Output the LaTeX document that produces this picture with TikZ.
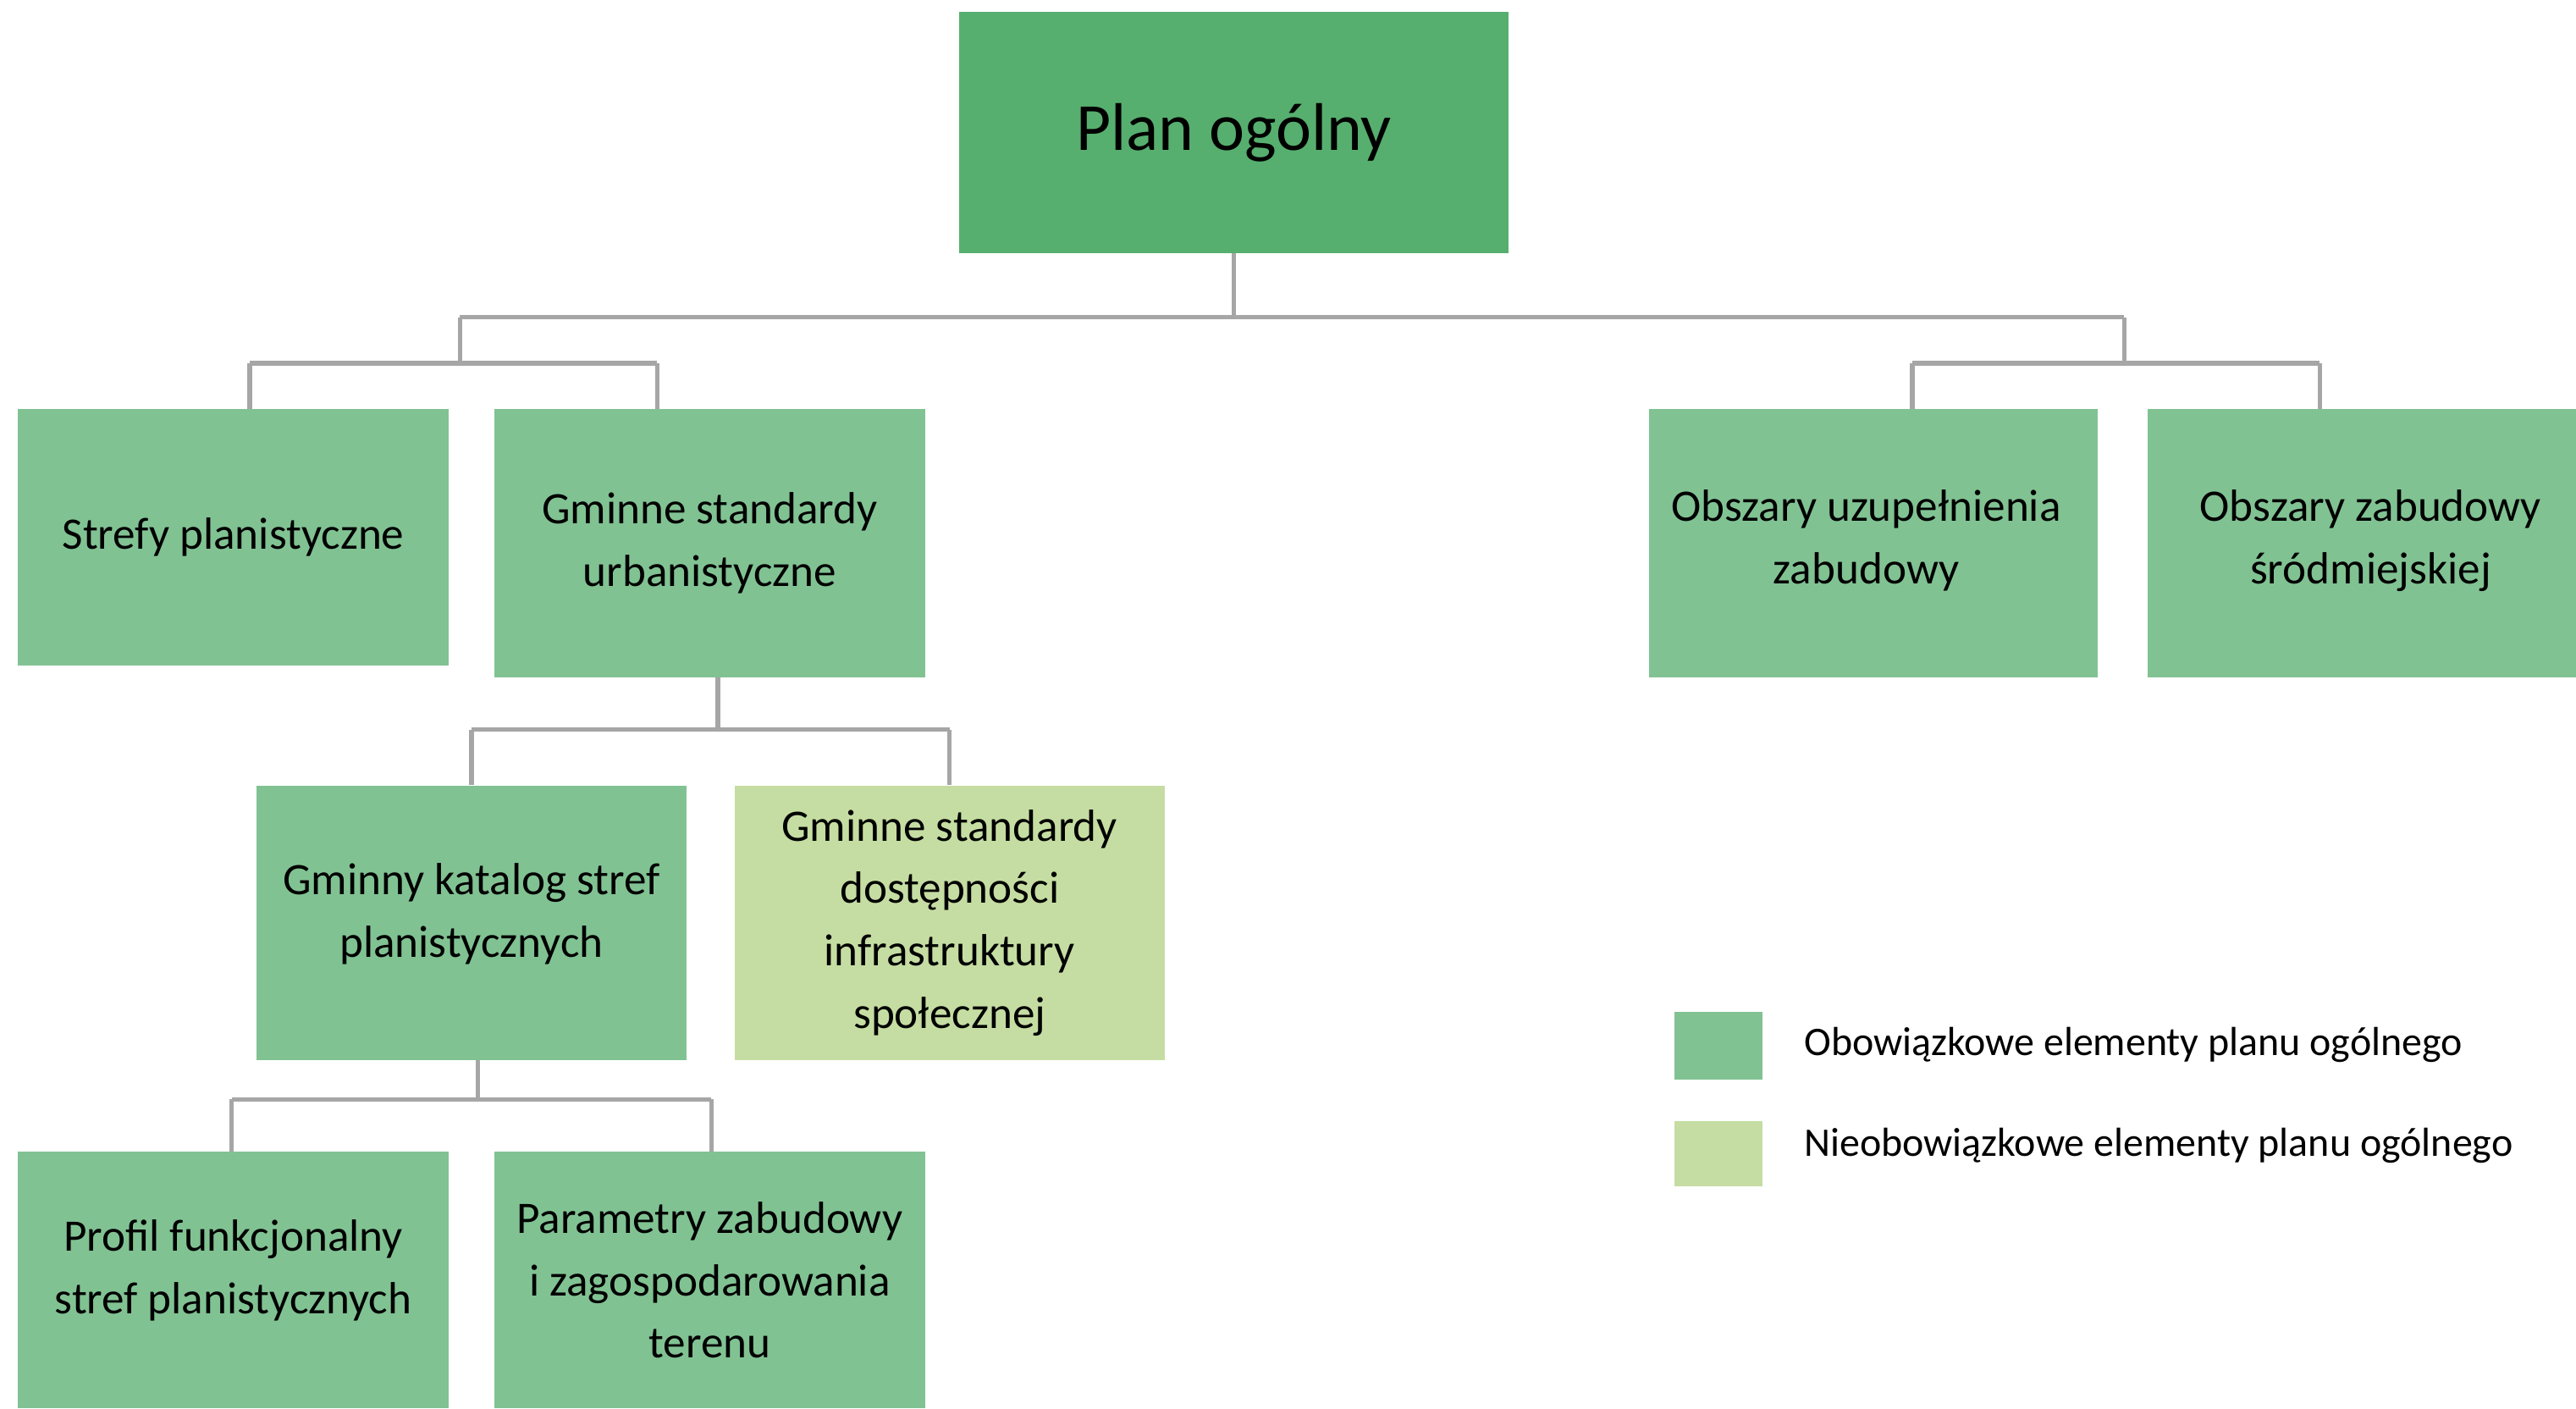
\documentclass[tikz,border=0pt]{standalone}
\usepackage{fontspec}
\setmainfont{Carlito}
\definecolor{gdark}{HTML}{56AF6E}
\definecolor{gmid}{HTML}{81C293}
\definecolor{glight}{HTML}{C5DDA2}
\definecolor{conn}{HTML}{A6A6A6}
\begin{document}
\begin{tikzpicture}[x=1pt,y=1pt,
  box/.style={rectangle,inner sep=0pt,align=center,font=\fontsize{27.4}{38}\selectfont},
  mid/.style={box,fill=gmid},
  light/.style={box,fill=glight},
  boxtext/.style={inner sep=0pt,align=center,font=\fontsize{27.4}{38}\selectfont},
  link/.style={draw=conn,line width=2.8pt},
  legtext/.style={anchor=west,inner sep=0pt,font=\fontsize{24.7}{30}\selectfont}]
\useasboundingbox (0,0) rectangle (1568,-857);
\fill[white] (0,0) rectangle (1568,-857);
% boxes
\node[box,fill=gdark,minimum width=334pt,minimum height=147pt,font=\fontsize{41}{50}\selectfont] (plan) at (751,-80.5) {Plan ogólny};
\node[mid,minimum width=262pt,minimum height=156pt] (strefy) at (142,-327) {Strefy planistyczne};
\node[mid,minimum width=262pt,minimum height=163pt] (gsu) at (432,-330.5) {Gminne standardy\\urbanistyczne};
\node[mid,minimum width=273pt,minimum height=163pt] (obu) at (1140.5,-330.5) {};
\node[boxtext] (obuT) at (1136,-329) {Obszary uzupełnienia\\zabudowy};
\node[mid,minimum width=261pt,minimum height=163pt] (obz) at (1437.5,-330.5) {};
\node[boxtext] (obzT) at (1443,-329) {Obszary zabudowy\\śródmiejskiej};
\node[mid,minimum width=262pt,minimum height=167pt] (kat) at (287,-561.5) {};
\node[boxtext] (katT) at (287,-556) {Gminny katalog stref\\planistycznych};
\node[light,minimum width=262pt,minimum height=167pt] (dost) at (578,-561.5) {Gminne standardy\\dostępności\\infrastruktury\\społecznej};
\node[mid,minimum width=262pt,minimum height=156pt] (prof) at (142,-779) {};
\node[boxtext] (profT) at (142,-773) {Profil funkcjonalny\\stref planistycznych};
\node[mid,minimum width=262pt,minimum height=156pt] (par) at (432,-779) {Parametry zabudowy\\i zagospodarowania\\terenu};
% legend
\node[fill=gmid,minimum width=54pt,minimum height=41pt,inner sep=0pt] (leg1) at (1046,-636.5) {};
\node[fill=glight,minimum width=54pt,minimum height=40pt,inner sep=0pt] (leg2) at (1046,-702) {};
\node[legtext] (leg1t) at (1098,-636) {Obowiązkowe elementy planu ogólnego};
\node[legtext] (leg2t) at (1098,-697) {Nieobowiązkowe elementy planu ogólnego};
% junction coordinates
\coordinate (b0) at (751,-193);
\coordinate (bL) at (280,-193);
\coordinate (bR) at (1293,-193);
\coordinate (bL1) at (280,-221);
\coordinate (bR1) at (1293,-221);
\coordinate (dS) at (152,-221);
\coordinate (dG) at (400,-221);
\coordinate (dO) at (1164,-221);
\coordinate (dZ) at (1412,-221);
\coordinate (c0) at (437,-444);
\coordinate (dK) at (287,-444);
\coordinate (dD) at (578,-444);
\coordinate (e0) at (291,-669);
\coordinate (dP) at (141,-669);
\coordinate (dR) at (433,-669);
% connectors
\draw[link] (plan.south) -- (b0);
\draw[link] (bL) -- (bR);
\draw[link] (bL) -- (bL1);
\draw[link] (bR) -- (bR1);
\draw[link] (dS) -- (dG);
\draw[link] (dO) -- (dZ);
\draw[link] (dS) -- (dS |- strefy.north);
\draw[link] (dG) -- (dG |- gsu.north);
\draw[link] (dO) -- (dO |- obu.north);
\draw[link] (dZ) -- (dZ |- obz.north);
\draw[link] (gsu.south -| c0) -- (c0);
\draw[link] (dK) -- (dD);
\draw[link] (dK) -- (kat.north);
\draw[link] (dD) -- (dost.north);
\draw[link] (kat.south -| e0) -- (e0);
\draw[link] (dP) -- (dR);
\draw[link] (dP) -- (dP |- prof.north);
\draw[link] (dR) -- (dR |- par.north);
\end{tikzpicture}
\end{document}
